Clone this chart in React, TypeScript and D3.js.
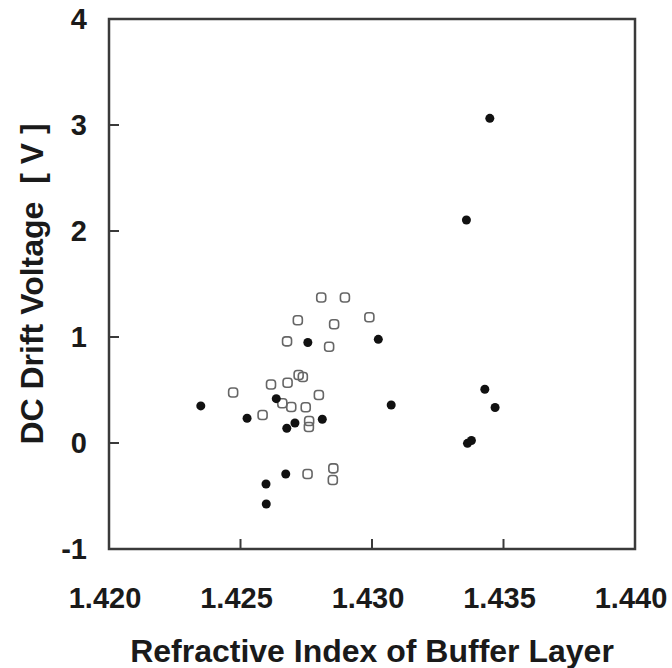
import { useEffect, useRef } from 'react';
import * as d3 from 'd3';

// filled markers: [refractive index, drift voltage]
const filledX = [1.42349, 1.42525, 1.42636, 1.42676, 1.42707, 1.42811, 1.42756, 1.43024, 1.43073, 1.42672, 1.42597, 1.42598, 1.43359, 1.43448, 1.43429, 1.43468, 1.43363, 1.43378];
const filledY = [0.35, 0.233, 0.418, 0.139, 0.189, 0.224, 0.948, 0.978, 0.358, -0.292, -0.387, -0.575, 2.104, 3.063, 0.507, 0.335, -0.003, 0.024];

// open markers
const openX = [1.42807, 1.42897, 1.42718, 1.42856, 1.4299, 1.42677, 1.42837, 1.42721, 1.42737, 1.42679, 1.42616, 1.42472, 1.42798, 1.42659, 1.42693, 1.42748, 1.42584, 1.42761, 1.4276, 1.42755, 1.42853, 1.42851];
const openY = [1.373, 1.373, 1.158, 1.12, 1.186, 0.959, 0.908, 0.642, 0.623, 0.569, 0.552, 0.476, 0.453, 0.375, 0.34, 0.337, 0.264, 0.208, 0.151, -0.292, -0.239, -0.349];

const xTicks = [1.420, 1.425, 1.430, 1.435, 1.440];
const yTicks = [-1, 0, 1, 2, 3, 4];

const xTitle = 'Refractive Index of Buffer Layer';
const yTitle = 'DC Drift Voltage  [ V ]';

const W = 672;
const H = 668;
const margin = { left: 109, right: 37, top: 19, bottom: 119 };

const App = () => {
  const ref = useRef<SVGSVGElement | null>(null);

  useEffect(() => {
    if (!ref.current) return;
    const svg = d3.select(ref.current);
    svg.selectAll('*').remove();

    const font = '"Liberation Sans", Arial, Helvetica, sans-serif';

    const x = d3.scaleLinear().domain([1.420, 1.440]).range([margin.left, W - margin.right]);
    const y = d3.scaleLinear().domain([-1, 4]).range([H - margin.bottom, margin.top]);

    const g = svg.append('g');

    // frame
    g.append('rect')
      .attr('x', x(1.420))
      .attr('y', y(4))
      .attr('width', x(1.440) - x(1.420))
      .attr('height', y(-1) - y(4))
      .attr('fill', 'none')
      .attr('stroke', '#3a3a3a')
      .attr('stroke-width', 2.5);

    // inward ticks
    g.selectAll('.xt')
      .data(xTicks.slice(1, -1))
      .enter()
      .append('line')
      .attr('x1', d => x(d))
      .attr('x2', d => x(d))
      .attr('y1', y(-1))
      .attr('y2', y(-1) - 10)
      .attr('stroke', '#3a3a3a')
      .attr('stroke-width', 2);

    g.selectAll('.yt')
      .data(yTicks.slice(1, -1))
      .enter()
      .append('line')
      .attr('x1', x(1.420))
      .attr('x2', x(1.420) + 10)
      .attr('y1', d => y(d))
      .attr('y2', d => y(d))
      .attr('stroke', '#3a3a3a')
      .attr('stroke-width', 2);

    // tick labels
    g.selectAll('.xl')
      .data(xTicks)
      .enter()
      .append('text')
      .attr('x', d => x(d) - 4)
      .attr('y', 608)
      .attr('text-anchor', 'middle')
      .style('font-family', font)
      .style('font-size', '29px')
      .style('font-weight', 'bold')
      .style('fill', '#1a1a1a')
      .text(d => d3.format('.3f')(d));

    g.selectAll('.yl')
      .data(yTicks)
      .enter()
      .append('text')
      .attr('x', 87)
      .attr('y', d => y(d))
      .attr('dy', '0.36em')
      .attr('text-anchor', 'end')
      .style('font-family', font)
      .style('font-size', '29px')
      .style('font-weight', 'bold')
      .style('fill', '#1a1a1a')
      .text(d => d);

    // axis titles
    g.append('text')
      .attr('x', (x(1.420) + x(1.440)) / 2)
      .attr('y', 662)
      .attr('text-anchor', 'middle')
      .style('font-family', font)
      .style('font-size', '32px')
      .style('font-weight', 'bold')
      .style('fill', '#1a1a1a')
      .text(xTitle);

    g.append('text')
      .attr('transform', `translate(43, ${(y(-1) + y(4)) / 2}) rotate(-90)`)
      .attr('text-anchor', 'middle')
      .attr('xml:space', 'preserve')
      .style('white-space', 'pre')
      .style('font-family', font)
      .style('font-size', '32px')
      .style('font-weight', 'bold')
      .style('fill', '#1a1a1a')
      .text(yTitle);

    // open markers
    const openData = openX.map((v, i) => ({ x: v, y: openY[i] }));
    g.selectAll('.open')
      .data(openData)
      .enter()
      .append('rect')
      .attr('x', d => x(d.x) - 4.5)
      .attr('y', d => y(d.y) - 4.5)
      .attr('width', 9)
      .attr('height', 9)
      .attr('rx', 3)
      .attr('fill', 'none')
      .attr('stroke', '#666')
      .attr('stroke-width', 1.6);

    // filled markers
    const filledData = filledX.map((v, i) => ({ x: v, y: filledY[i] }));
    g.selectAll('.filled')
      .data(filledData)
      .enter()
      .append('circle')
      .attr('cx', d => x(d.x))
      .attr('cy', d => y(d.y))
      .attr('r', 4.5)
      .attr('fill', '#111');
  }, []);

  return (
    <svg
      ref={ref}
      width={W}
      height={H}
      style={{ position: 'absolute', left: 0, top: 0, background: '#fff' }}
    ></svg>
  );
};

export default App;
